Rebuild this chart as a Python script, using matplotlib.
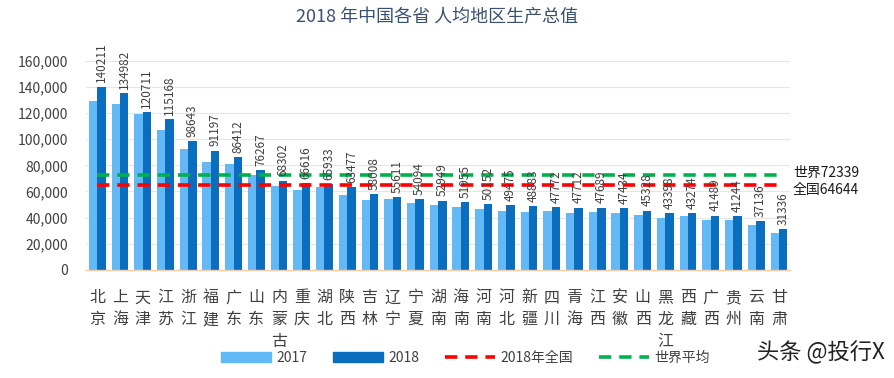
import matplotlib
matplotlib.use('Agg')
import matplotlib.pyplot as plt
from matplotlib.patches import Patch
from matplotlib.lines import Line2D
from matplotlib.ticker import StrMethodFormatter
import numpy as np

plt.rcParams['font.family'] = ['Noto Sans CJK SC', 'DejaVu Sans']

# 数据
provinces = ['北京', '上海', '天津', '江苏', '浙江', '福建', '广东', '山东', '内蒙古', '重庆',
             '湖北', '陕西', '吉林', '辽宁', '宁夏', '湖南', '海南', '河南', '河北', '新疆',
             '四川', '青海', '江西', '安徽', '山西', '黑龙江', '西藏', '广西', '贵州', '云南', '甘肃']
gdp_2017 = [129000, 126600, 119000, 107200, 92300, 82800, 81300, 72900, 63800, 60800,
            63600, 57400, 53800, 54600, 50800, 49700, 48400, 46600, 45300, 44600,
            45100, 43800, 44400, 43500, 42200, 39800, 41300, 38300, 38300, 34100, 28500]
gdp_2018 = [140211, 134982, 120711, 115168, 98643, 91197, 86412, 76267, 68302, 66616,
            65933, 63477, 58008, 55611, 54094, 52949, 51955, 50152, 49475, 48883,
            47772, 47712, 47689, 47434, 45328, 43398, 43274, 41489, 41244, 37136, 31336]
world_avg = 72339
national_avg = 64644

c17 = '#63b9f6'
c18 = '#0b6dbd'
c_red = '#ff0000'
c_green = '#00b050'

fig = plt.figure(figsize=(8.95, 3.78), dpi=100)
ax = fig.add_axes([0.096, 0.286, 0.787, 0.5534])

x = np.arange(len(provinces))
w = 0.37
ax.bar(x - w / 2, gdp_2017, width=w, color=c17, zorder=2)
ax.bar(x + w / 2, gdp_2018, width=w, color=c18, zorder=2)

for xi, v in zip(x, gdp_2018):
    ax.annotate(str(v), (xi + w / 2, v), xytext=(0, 3), textcoords='offset points',
                rotation=90, ha='center', va='bottom', fontsize=8.5, color='#404040',
                zorder=4, annotation_clip=False)

dash = (3.4, 2.2)
ax.plot([x[0], x[-1]], [national_avg, national_avg], color=c_red, lw=2.6,
        dashes=dash, zorder=3)
ax.plot([x[0], x[-1]], [world_avg, world_avg], color=c_green, lw=2.6,
        dashes=dash, zorder=3)

ax.annotate(f'世界{world_avg}', (1.0, world_avg), xycoords=('axes fraction', 'data'),
            xytext=(2, 2), textcoords='offset points', ha='left', va='center',
            fontsize=10, color='#1a1a1a', annotation_clip=False)
ax.annotate(f'全国{national_avg}', (1.0, national_avg), xycoords=('axes fraction', 'data'),
            xytext=(2, -3), textcoords='offset points', ha='left', va='center',
            fontsize=10, color='#1a1a1a', annotation_clip=False)

ax.set_xlim(-0.5, len(provinces) - 0.5)
ax.set_ylim(0, 160000)
ax.set_yticks(range(0, 160001, 20000))
ax.yaxis.set_major_formatter(StrMethodFormatter('{x:,.0f}'))
ax.tick_params(axis='y', length=0, labelsize=10, labelcolor='#404040', pad=13)
ax.set_xticks(x)
ax.set_xticklabels(['\n'.join(p) for p in provinces], fontsize=11.5, color='#404040',
                   linespacing=1.37, va='top')
ax.tick_params(axis='x', length=0, pad=14)
ax.grid(axis='y', color='#e6e6e6', lw=0.8, zorder=0)
for s in ['top', 'right', 'left']:
    ax.spines[s].set_visible(False)
ax.spines['bottom'].set_color('#f8cbad')
ax.spines['bottom'].set_linewidth(1.0)

fig.text(0.488, 0.955, '2018 年中国各省 人均地区生产总值', ha='center', va='center',
         fontsize=13, color='#3a5070')

handles = [Patch(color=c17), Patch(color=c18),
           Line2D([], [], color=c_red, lw=2.6, dashes=dash),
           Line2D([], [], color=c_green, lw=2.6, dashes=dash)]
labels = ['2017', '2018', '2018年全国', '世界平均']
fig.legend(handles, labels, loc='center', bbox_to_anchor=(0.52, 0.053), ncol=4,
           frameon=False, fontsize=10, handlelength=3.6, handleheight=0.7,
           handletextpad=0.35, columnspacing=1.9, labelcolor='#404040')

fig.text(0.988, 0.068, '头条 @投行X', ha='right', va='center', fontsize=16,
         color='#222222')

fig.savefig('out.png', dpi=100)
